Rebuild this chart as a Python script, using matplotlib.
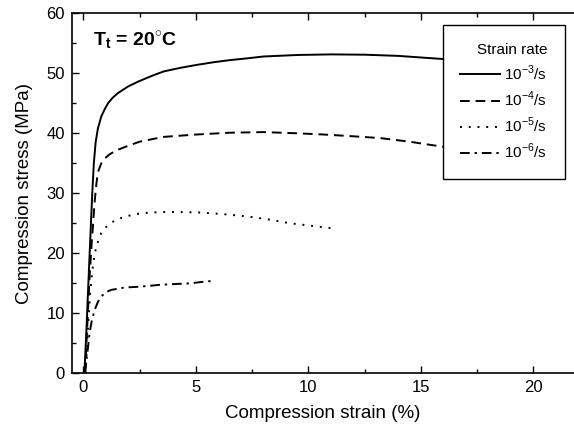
import matplotlib
matplotlib.use("Agg")
import matplotlib.pyplot as plt
from matplotlib.ticker import MultipleLocator

plt.rcParams['font.family'] = ['Liberation Sans', 'DejaVu Sans']
plt.rcParams['mathtext.fontset'] = 'custom'
plt.rcParams['mathtext.rm'] = 'Liberation Sans'
plt.rcParams['mathtext.bf'] = 'Liberation Sans:bold'

# ====== data ======
strain_1e3 = [0.05, 0.15, 0.25, 0.33, 0.4, 0.47, 0.55, 0.65, 0.8, 0.95, 1.1, 1.3, 1.54, 1.99, 2.43,
              3.0, 3.56, 4.3, 5.04, 5.8, 6.52, 7.3, 8.0, 9.5, 11.0, 12.5, 14.0, 15.9, 17.5, 19.0, 20.5]
stress_1e3 = [0, 8, 17, 24, 30, 35, 38.5, 40.8, 42.8, 44.0, 45.0, 45.9, 46.7, 47.8, 48.6,
              49.5, 50.3, 50.9, 51.4, 51.85, 52.2, 52.5, 52.8, 53.05, 53.15, 53.1, 52.9, 52.4, 52.0, 51.6, 51.2]

strain_1e4 = [0.08, 0.18, 0.28, 0.38, 0.43, 0.5, 0.58, 0.65, 0.8, 0.95, 1.17, 1.5, 1.91, 2.5, 3.56,
              5.04, 6.52, 8.0, 9.5, 10.67, 12.0, 13.2, 14.5, 15.9, 17.5, 19.0, 20.5]
stress_1e4 = [0, 8, 16, 22, 24.5, 28.3, 31.5, 33.5, 35.0, 35.8, 36.5, 37.2, 37.8, 38.6, 39.4,
              39.8, 40.1, 40.2, 40.0, 39.8, 39.5, 39.2, 38.6, 37.8, 37.2, 36.6, 36.0]

strain_1e5 = [0.1, 0.2, 0.3, 0.4, 0.5, 0.58, 0.65, 0.8, 0.95, 1.24, 1.4, 1.84, 2.36, 2.97, 3.85,
              5.2, 6.3, 7.4, 8.3, 9.2, 10.1, 11.0]
stress_1e5 = [0, 7, 13, 17, 19.8, 21.0, 21.9, 23.4, 24.2, 25.0, 25.5, 26.1, 26.55, 26.8, 26.9,
              26.8, 26.5, 26.1, 25.6, 25.0, 24.6, 24.2]

strain_1e6 = [0.08, 0.18, 0.28, 0.37, 0.5, 0.65, 0.8, 1.0, 1.24, 1.84, 2.36, 3.0, 3.4, 4.2, 4.8, 5.2, 5.75]
stress_1e6 = [0, 3.3, 6.7, 8.6, 10.5, 11.9, 12.8, 13.5, 13.9, 14.3, 14.4, 14.6, 14.75, 14.9, 15.0, 15.2, 15.4]

labels = [r'10$^{-3}$/s', r'10$^{-4}$/s', r'10$^{-5}$/s', r'10$^{-6}$/s']

# ====== plot ======
fig = plt.figure(figsize=(5.74, 4.30), dpi=100)
ax = fig.add_axes([72 / 574, 1 - 373.3 / 430, 502 / 574, 360 / 430])

kw = dict(color='black', lw=1.4, solid_joinstyle='round', dash_joinstyle='round')
ax.plot(strain_1e3, stress_1e3, ls='-', label=labels[0], **kw)
ax.plot(strain_1e4, stress_1e4, ls=(0, (5, 3)), label=labels[1], **kw)
ax.plot(strain_1e5, stress_1e5, ls=(0, (1, 3.5)), label=labels[2], **kw)
ax.plot(strain_1e6, stress_1e6, ls=(0, (5, 2.5, 1.2, 2.5)), label=labels[3], **kw)

ax.set_xlim(-0.5, 21.8)
ax.set_ylim(0, 60)
ax.xaxis.set_major_locator(MultipleLocator(5))
ax.xaxis.set_minor_locator(MultipleLocator(2.5))
ax.yaxis.set_major_locator(MultipleLocator(10))
ax.yaxis.set_minor_locator(MultipleLocator(5))
ax.tick_params(which='both', direction='in', top=True, right=False, labelsize=12, width=1)
ax.tick_params(which='major', length=5, pad=5)
ax.tick_params(which='minor', length=3)
ax.spines['right'].set_visible(False)
for s in ['left', 'bottom', 'top']:
    ax.spines[s].set_linewidth(1.2)

ax.set_xlabel('Compression strain (%)', fontsize=13.5, labelpad=7)
ax.set_ylabel('Compression stress (MPa)', fontsize=13.5, labelpad=10)

ax.text(0.43, 55.5, r'$\mathbf{T_t}$ = 20$^{\circ}$C', fontsize=14, fontweight='bold',
        va='center', ha='left')

leg = ax.legend(title='Strain rate', loc='upper right', bbox_to_anchor=(0.982, 0.9675),
                borderaxespad=0, fancybox=False, edgecolor='black', framealpha=1,
                fontsize=11, title_fontsize=11, handlelength=2.6, handletextpad=0.3,
                labelspacing=0.45, borderpad=1.15, alignment='right')
leg.get_frame().set_linewidth(1.0)

fig.savefig('out.png', dpi=100)
